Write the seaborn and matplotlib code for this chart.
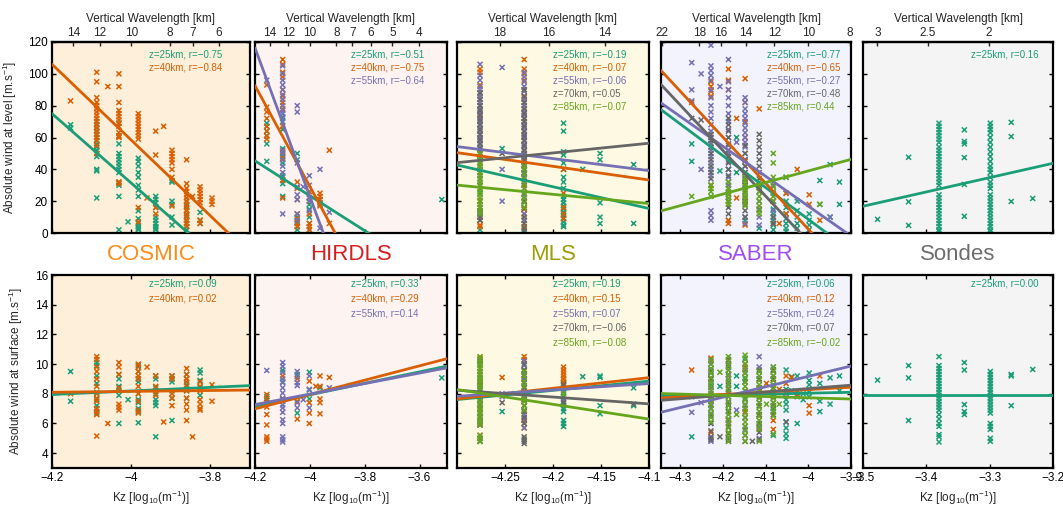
import numpy as np
import pandas as pd
import matplotlib
matplotlib.use("Agg")
import matplotlib.pyplot as plt
import seaborn as sns
from matplotlib.ticker import FuncFormatter, NullLocator

# ---------------------------------------------------------------- data
INSTRUMENTS = ["COSMIC", "HIRDLS", "MLS", "SABER", "Sondes"]
ALT_COLORS = {25: "#1B9E77", 40: "#D95F02", 55: "#7570B3", 70: "#666666", 85: "#66A61E"}

# ---- COSMIC
COSMIC_KZ = [-4.153, -4.087, -4.059, -4.031, -4.008, -3.982, -3.960, -3.938,
             -3.918, -3.897, -3.860, -3.845, -3.826, -3.796]
COSMIC_ALT = [25, 40]
COSMIC_LEVEL_25 = [[68, 66], [70, 68, 66, 64, 62, 60, 58, 56, 54, 52, 50, 48, 40, 39, 22], [],
                   [69, 61, 56, 50, 48, 46, 44, 42, 40, 38, 32, 30, 23, 2], [7],
                   [47, 45, 42, 38, 35, 30, 27, 23, 14, 9, 6, 4, 3, 2], [],
                   [23, 21, 19, 16, 10, 8, 6, 4, 3, 2], [], [33, 32, 20, 18, 10, 5],
                   [20, 17, 14, 11, 8, 6, 4, 2], [], [13, 8, 6], []]
COSMIC_LEVEL_40 = [[83], [101, 95, 85, 82, 80, 78, 76, 74, 72, 70, 68, 66, 64, 62, 60, 58, 55, 50], [92],
                   [100, 92, 82, 77, 75, 73, 71, 69, 67, 63, 61, 60, 32, 31], [],
                   [75, 73, 71, 69, 67, 65, 63, 61, 59, 16, 7], [22], [64, 49, 16, 12], [67],
                   [52, 50, 48, 46, 44, 40, 35, 17],
                   [46, 31, 28, 26, 24, 22, 20, 18, 16, 14, 12, 10, 8, 6, 4], [23],
                   [29, 27, 25, 23, 21, 19, 8, 6], [22, 20, 18]]
COSMIC_SURF_25 = [[9.5, 7.5], [10.1, 9.9, 9.2, 8.7, 8.1, 7.6, 7.2, 7.0, 6.7], [],
                  [9.3, 9.0, 8.5, 8.2, 7.9, 6.0], [7.6],
                  [9.9, 9.5, 9.0, 8.8, 8.0, 7.6, 7.4, 7.0, 6.8, 6.05], [],
                  [9.2, 9.0, 8.4, 8.0, 7.6, 7.4, 7.2, 5.1], [], [9.2, 9.0, 8.8, 8.2, 7.7, 6.2],
                  [9.3, 9.0, 8.6, 8.2, 7.7], [], [9.6, 9.4, 8.9, 8.4, 7.9], []]
COSMIC_SURF_40 = [[8.0], [10.5, 10.3, 9.8, 9.5, 9.0, 8.5, 8.0, 7.7, 7.5, 7.0, 6.8, 6.6, 5.15], [6.0],
                  [10.1, 9.8, 9.3, 8.4, 7.3, 7.1, 6.9], [],
                  [10.0, 9.8, 9.5, 9.2, 9.0, 8.5, 8.0, 7.5, 6.9, 6.7], [9.8], [9.2, 8.5, 8.2, 7.9],
                  [6.1], [9.2, 9.0, 8.0, 7.7, 7.2],
                  [9.7, 9.3, 9.0, 8.8, 8.5, 8.2, 7.7, 7.3, 6.9, 6.2], [5.1],
                  [8.8, 8.5, 8.2, 7.6, 7.3, 7.0, 6.9], [8.6, 7.5]]
COSMIC_R_LEVEL = [-0.75, -0.84]
COSMIC_R_SURF = [0.09, 0.02]
COSMIC_SLOPE_LEVEL = [-218.0, -238.0]
COSMIC_AT_M4_LEVEL = [31.4, 58.4]
COSMIC_SLOPE_SURF = [1.2, 0.3]
COSMIC_AT_M4_SURF = [8.19, 8.16]

# ---- HIRDLS
HIRDLS_KZ = [-4.157, -4.099, -4.046, -4.024, -4.002, -3.978, -3.963, -3.929, -3.519]
HIRDLS_ALT = [25, 40, 55]
HIRDLS_LEVEL_25 = [[69, 67, 64, 61, 56, 45], [73, 70, 65, 53, 48, 44, 36, 31, 23],
                   [50, 46, 10, 7, 4, 2], [], [22, 18, 15, 10, 6, 2], [], [21, 18], [], [21]]
HIRDLS_LEVEL_40 = [[93, 79, 76, 72, 67, 64, 61, 59],
                   [109, 106, 101, 98, 90, 86, 82, 78, 67, 51, 47, 33, 22],
                   [32, 28, 21, 12, 9, 6, 4], [], [26, 20, 12, 6, 4, 2], [],
                   [25, 23, 21, 19, 17], [52, 6], []]
HIRDLS_LEVEL_55 = [[96], [105, 100, 96, 93, 90, 87, 84, 80, 77, 75, 72, 52, 50, 46, 42, 38, 35, 12],
                   [80, 76, 44, 29, 24, 21, 12, 8], [29], [36, 30, 22, 20, 14], [], [40, 3], [13], []]
HIRDLS_SURF_25 = [[7.8, 7.55], [9.6, 8.8, 7.6], [9.3, 6.7], [], [9.45, 8.25, 7.65], [], [8.4], [], [9.07]]
HIRDLS_SURF_40 = [[7.95, 7.65, 7.4, 7.1, 6.6, 5.9, 5.1, 4.95, 4.8], [9.2, 7.65], [9.0, 7.5, 6.3], [],
                  [8.85, 7.4, 6.7, 6.0], [8.5], [9.2, 8.5, 7.65, 7.4, 6.65], [9.1], []]
HIRDLS_SURF_55 = [[9.57], [10.1, 9.85, 9.45, 9.0, 8.75, 8.4, 8.05, 7.7, 7.5, 7.25, 7.05, 6.75, 6.25,
                           6.0, 5.1, 4.9, 4.75],
                  [9.5, 9.15, 8.75, 8.55, 7.4, 7.05], [7.6], [9.2, 8.3, 7.05], [], [], [8.4], []]
HIRDLS_R_LEVEL = [-0.51, -0.75, -0.64]
HIRDLS_R_SURF = [0.33, 0.29, 0.14]
HIRDLS_SLOPE_LEVEL = [-109.7, -317.0, -467.0]
HIRDLS_AT_M4_LEVEL = [23.4, 29.2, 22.9]
HIRDLS_SLOPE_SURF = [3.87, 4.83, 3.54]
HIRDLS_AT_M4_SURF = [7.93, 7.95, 7.98]

# ---- MLS
MLS_KZ = [-4.276, -4.253, -4.230, -4.189, -4.169, -4.151, -4.116]
MLS_ALT = [25, 40, 55, 70, 85]
MLS_LEVEL_25 = [[52, 48, 44, 40, 36, 30, 25, 20, 14, 8, 2], [53], [50, 45, 38, 30, 22, 15, 8, 2],
                [69, 64, 51, 49, 44, 40, 35, 32, 28, 23, 21, 19, 17, 15, 13, 11, 9, 7, 5, 4],
                [40], [50, 46, 19, 10, 6], [43, 6]]
MLS_LEVEL_40 = [[103, 101, 93, 88, 84, 80, 75, 70, 64, 58, 50, 44, 38, 30, 20, 12, 8, 5, 4], [],
                [109, 103, 100, 96, 90, 85, 80, 76, 72, 68, 64, 60, 55, 50, 45, 40, 35, 30, 25, 20,
                 15, 12, 8, 4],
                [40, 25, 16, 12, 9], [], [], []]
MLS_LEVEL_55 = [[106, 99, 96, 92, 90, 88, 86, 84, 82, 80, 78, 76, 74, 72, 70, 68, 66, 64, 62, 60, 58,
                 56, 54, 50, 46, 42, 38, 34, 30, 16, 13, 10],
                [104, 40, 20],
                [101, 98, 95, 92, 89, 86, 84, 82, 80, 78, 76, 74, 72, 70, 68, 66, 64, 62, 60, 58, 56,
                 54, 52, 50, 48, 46, 44, 42, 40, 38, 35, 32, 28, 24, 20, 16, 12, 8],
                [], [], [], []]
MLS_LEVEL_70 = [[88, 84, 80, 77, 74, 71, 68, 65, 62, 59, 56, 53, 50, 47, 16, 14, 12, 10, 8], [50],
                [90, 86, 82, 78, 75, 72, 70, 67, 64, 61, 58, 55, 52, 49, 46, 43, 40, 37, 20, 16, 10,
                 6, 3, 1],
                [], [], [], []]
MLS_LEVEL_85 = [[50, 48, 46, 44, 42, 40, 38, 36, 34, 32, 30, 28, 26, 24, 22, 20, 18, 16, 14, 12], [],
                [42, 40, 37, 34, 31, 28, 25, 22, 19, 16], [], [], [], []]
MLS_SURF_25 = [[10.0, 9.0, 8.2, 7.6, 7.0, 6.4, 5.9, 5.0, 4.8], [6.8], [10.2, 9.2, 8.0, 7.2, 6.2],
               [9.0, 8.7, 8.4, 8.1, 7.8, 7.5, 7.2, 7.0, 6.8, 6.2, 6.0, 5.8], [9.15],
               [9.2, 9.1, 7.2, 6.65], [8.4, 7.2]]
MLS_SURF_40 = [[10.4, 9.5, 8.8, 7.9, 7.0, 6.0, 5.2], [9.1],
               [10.5, 10.3, 9.6, 9.0, 8.2, 7.6, 6.8, 6.2, 5.7],
               [9.8, 9.6, 9.4, 9.2, 9.0, 8.8, 8.6], [], [], []]
MLS_SURF_55 = [[10.3, 9.7, 9.1, 8.5, 7.8, 7.2, 6.5, 5.9], [8.0, 7.8],
               [10.2, 9.9, 9.6, 9.3, 9.0, 8.7, 8.4, 8.1, 7.8, 7.5, 7.2, 6.9, 6.6, 6.3, 6.0, 5.7],
               [8.2, 7.6], [], [], []]
MLS_SURF_70 = [[10.2, 9.3, 8.6, 7.9, 7.3, 6.7, 6.1, 5.0, 4.8], [7.4],
               [10.0, 9.6, 9.2, 8.8, 8.4, 8.0, 7.6, 7.2, 6.8, 6.4, 6.0, 5.1, 4.95, 4.8, 4.65],
               [8.6, 7.4], [], [], [7.3]]
MLS_SURF_85 = [[10.5, 10.3, 10.1, 9.9, 9.7, 9.5, 9.3, 9.1, 8.9, 8.7, 8.5, 8.3, 8.1, 7.9, 7.7, 7.5,
                7.3, 7.1, 6.9, 6.7, 6.5, 6.3, 6.1, 5.9, 5.2, 5.0, 4.8],
               [], [9.5, 9.2, 8.8, 8.5, 8.1, 7.8, 7.5, 7.2, 6.9], [8.0], [], [], []]
MLS_R_LEVEL = [-0.19, -0.07, -0.06, 0.05, -0.07]
MLS_R_SURF = [0.19, 0.15, 0.07, -0.06, -0.08]
MLS_SLOPE_LEVEL = [-136.5, -86.0, -75.5, 61.0, -58.0]
MLS_AT_M4_LEVEL = [1.75, 24.7, 31.65, 62.5, 12.7]
MLS_SLOPE_SURF = [6.2, 7.15, 4.3, -4.6, -9.95]
MLS_AT_M4_SURF = [9.47, 9.8, 9.12, 6.86, 5.3]

# ---- SABER
SABER_KZ = [-4.273, -4.251, -4.228, -4.207, -4.187, -4.168, -4.148, -4.131, -4.115, -4.098,
            -4.082, -4.068, -4.052, -4.039, -4.026, -4.012, -3.998, -3.973, -3.949, -3.927]
SABER_ALT = [25, 40, 55, 70, 85]
SABER_LEVEL_25 = [[56, 45], [], [56, 40, 30], [39], [40, 8], [60, 38], [30, 20, 8], [], [3], [],
                  [20, 15, 12, 8, 5, 2], [], [35, 25, 20, 16, 12, 9, 6, 3, 1], [],
                  [20, 14, 10, 6, 3], [], [12, 8, 5, 2], [33, 18], [43, 10], [32, 18]]
SABER_LEVEL_40 = [[82], [], [95, 92, 89, 86, 60, 30], [], [103, 96, 90, 20, 8, 6], [72, 22],
                  [97, 82, 70, 60, 45, 20, 5], [], [78, 30, 15], [], [20, 6], [6], [25, 12], [],
                  [40], [], [24, 18], [8], [], []]
SABER_LEVEL_55 = [[107, 90, 83], [100, 40],
                  [118, 105, 102, 99, 96, 90, 85, 80, 76, 72, 68, 64, 60, 56, 52, 48, 44, 40, 36,
                   14, 11, 8],
                  [92], [109, 95, 90, 85, 80, 75, 70, 65, 60, 55, 50, 45, 40, 35, 30, 25, 20], [57],
                  [85, 82, 78, 75, 72, 69, 66, 63, 60, 57, 54, 50, 46, 42, 38, 34, 30, 10, 6], [],
                  [20, 15, 10, 5], [], [30, 25, 20, 14, 10], [], [], [], [], [], [], [], [10], []]
SABER_LEVEL_70 = [[72], [71], [62, 58, 54, 50, 46, 42, 38, 34], [],
                  [72, 68, 64, 60, 56, 52, 48, 44, 40, 36, 32, 28, 24, 20, 16, 12], [],
                  [55, 50, 46, 42, 38, 34, 30, 26, 22, 18, 14, 10], [],
                  [62, 58, 54, 50, 46, 42, 38, 34, 30, 26], [], [10, 6], [], [], [], [], [], [],
                  [], [], []]
SABER_LEVEL_85 = [[23], [], [30, 28, 26, 23], [], [32, 28, 26, 24, 22, 20, 18], [],
                  [35, 33, 31, 29, 27, 25, 23, 21, 19, 17], [], [32, 29, 26, 23, 20, 17, 14, 12], [],
                  [50, 44, 35, 32, 29, 26, 23, 20], [], [35], [], [], [], [], [18], [], []]
SABER_SURF_25 = [[7.8, 5.1], [], [9.4, 8.6, 7.0], [8.5], [9.6, 7.2], [9.2, 8.5], [10.4, 9.0, 7.7],
                 [], [9.5, 8.0], [], [9.6, 7.0, 5.2],
                 [], [9.6, 8.3, 8.1, 7.6, 7.3, 6.9, 6.1, 5.7, 5.3, 5.0], [9.15, 8.2],
                 [9.2, 8.1, 7.8, 6.0], [8.0, 7.6], [9.4, 8.9, 8.6, 8.1, 7.8], [8.7, 7.5, 6.8],
                 [9.07, 7.3], [9.2, 8.2]]
SABER_SURF_40 = [[9.6], [], [10.4, 9.0, 7.6, 5.4], [], [10.2, 6.2, 5.3], [], [9.8, 6.8], [],
                 [8.4, 6.5, 5.7], [8.7], [9.0, 6.2, 5.6], [8.3], [9.2, 8.7, 8.0], [9.1], [7.95],
                 [], [7.2, 6.7], [9.2], [], []]
SABER_SURF_55 = [[6.75], [7.4], [10.2, 9.6, 9.0, 8.4, 7.8, 7.2, 6.6, 6.0, 5.0, 4.8], [],
                 [10.0, 9.2, 8.6, 8.0, 7.4, 6.8, 6.2, 5.0, 4.8], [6.9], [9.6, 8.8, 8.0, 7.2, 6.4, 5.6],
                 [], [10.5, 9.8, 9.0, 8.2, 7.4, 6.6, 5.8, 5.0], [], [9.8, 9.2, 8.6, 8.0, 7.4, 6.8],
                 [], [8.0], [], [], [], [], [], [], []]
SABER_SURF_70 = [[], [], [10.0, 9.5, 9.0, 8.5, 8.0, 7.5, 7.0, 6.5, 6.0, 5.5, 5.1, 4.9], [5.1],
                 [10.3, 9.8, 9.3, 8.8, 8.3, 7.8, 7.3, 6.8, 6.3, 5.8, 5.3, 4.9], [],
                 [10.0, 9.4, 8.8, 8.2, 7.6, 7.0, 6.4, 5.8, 5.2, 4.8], [4.8],
                 [9.6, 9.0, 8.4, 7.8, 7.2, 6.6, 6.0, 5.4, 4.9], [], [9.6, 9.0, 8.4, 7.8, 7.2, 6.6],
                 [], [6.1], [], [], [], [], [], [], []]
SABER_SURF_85 = [[], [], [10.3, 10.0, 9.7, 9.4, 9.1, 8.8, 8.5, 8.2, 7.9, 7.6, 7.3, 7.0, 6.7, 6.4, 6.1],
                 [9.45],
                 [10.5, 10.2, 9.9, 9.6, 9.3, 9.0, 8.7, 8.4, 8.1, 7.8, 7.5, 7.2, 6.9, 6.6, 6.3, 6.0,
                  5.7, 5.4, 5.1, 4.8],
                 [6.6],
                 [10.6, 10.3, 10.0, 9.7, 9.4, 9.1, 8.8, 8.5, 8.2, 7.9, 7.6, 7.3, 7.0, 6.7, 6.4, 6.1,
                  5.8, 5.5, 5.2, 4.8],
                 [], [9.5, 9.2, 8.9, 8.6, 8.3, 8.0, 7.7, 7.4, 7.1, 6.8, 6.5, 6.2, 5.9, 5.6, 4.8],
                 [7.3], [9.8, 9.5, 9.2, 8.9, 8.6, 8.3, 8.0, 7.7, 7.4, 7.1, 6.8, 6.5, 5.3], [7.3],
                 [], [], [], [], [], [], [], []]
SABER_R_LEVEL = [-0.77, -0.65, -0.27, -0.48, 0.44]
SABER_R_SURF = [0.06, 0.12, 0.24, 0.07, -0.02]
SABER_SLOPE_LEVEL = [-199.7, -289.0, -187.8, -286.0, 72.8]
SABER_AT_M4_LEVEL = [8.6, 2.4, 16.9, -5.4, 39.0]
SABER_SLOPE_SURF = [0.6, 1.62, 7.0, 2.29, -0.83]
SABER_AT_M4_SURF = [8.04, 8.28, 9.17, 8.35, 7.73]

# ---- Sondes
SONDES_KZ = [-3.477, -3.428, -3.380, -3.340, -3.299, -3.266, -3.232]
SONDES_ALT = [25]
SONDES_LEVEL_25 = [[8.6], [47.6, 19.6, 4.8],
                   [69, 67, 65, 63, 61, 59, 57, 54, 52, 50, 48, 46, 44, 42, 40, 38, 36, 34, 32, 30,
                    24, 22, 20, 18, 16, 14, 12, 10, 8, 6, 4, 2, 1],
                   [64.8, 57.5, 56, 47.4, 30.5, 10.5],
                   [69, 67, 65, 63, 60, 57, 54, 51, 48, 45, 42, 40, 38, 35, 32, 30, 28, 24, 22, 20,
                    18, 16, 14, 12, 10, 8, 6, 4, 2, 1],
                   [69.5, 60.6, 19.8], [21.7]]
SONDES_SURF_25 = [[8.92], [9.9, 9.07, 6.2],
                  [10.5, 9.9, 9.7, 9.5, 9.3, 9.1, 8.9, 8.7, 8.5, 8.3, 8.1, 7.9, 7.7, 7.5, 7.3, 7.1,
                   6.9, 6.6, 6.3, 6.0, 5.8, 5.25, 5.1, 4.75],
                  [10.1, 9.6, 7.27, 6.8, 6.6],
                  [9.5, 9.3, 9.1, 8.9, 8.7, 8.5, 8.3, 8.1, 7.9, 7.7, 7.5, 7.3, 7.1, 6.9, 6.7, 6.0,
                   5.8, 5.6, 5.0, 4.8],
                  [9.3, 9.2, 7.2], [9.64]]
SONDES_R_LEVEL = [0.16]
SONDES_R_SURF = [0.00]
SONDES_SLOPE_LEVEL = [90.0]
SONDES_AT_M4_LEVEL = [-28.2]
SONDES_SLOPE_SURF = [0.0]
SONDES_AT_M4_SURF = [7.9]

# axis ticks / limits
KZ_LIMS = [(-4.2, -3.7), (-4.2, -3.5), (-4.3, -4.1), (-4.345, -3.9), (-3.5, -3.2)]
KZ_TICKS = [[-4.2, -4.0, -3.8], [-4.2, -4.0, -3.8, -3.6], [-4.25, -4.2, -4.15, -4.1],
            [-4.3, -4.2, -4.1, -4.0, -3.9], [-3.5, -3.4, -3.3, -3.2]]
LAMBDA_TICKS = [[14, 12, 10, 8, 7, 6], [14, 12, 10, 8, 7, 6, 5, 4], [18, 16, 14],
                [22, 18, 16, 14, 12, 10, 8], [3, 2.5, 2]]
LEVEL_TICKS = [0, 20, 40, 60, 80, 100, 120]
SURF_TICKS = [4, 6, 8, 10, 12, 14, 16]

PANELS = [
    dict(kz=COSMIC_KZ, alt=COSMIC_ALT,
         level=[COSMIC_LEVEL_25, COSMIC_LEVEL_40], surf=[COSMIC_SURF_25, COSMIC_SURF_40],
         r_level=COSMIC_R_LEVEL, r_surf=COSMIC_R_SURF,
         fit_level=(COSMIC_SLOPE_LEVEL, COSMIC_AT_M4_LEVEL), fit_surf=(COSMIC_SLOPE_SURF, COSMIC_AT_M4_SURF)),
    dict(kz=HIRDLS_KZ, alt=HIRDLS_ALT,
         level=[HIRDLS_LEVEL_25, HIRDLS_LEVEL_40, HIRDLS_LEVEL_55],
         surf=[HIRDLS_SURF_25, HIRDLS_SURF_40, HIRDLS_SURF_55],
         r_level=HIRDLS_R_LEVEL, r_surf=HIRDLS_R_SURF,
         fit_level=(HIRDLS_SLOPE_LEVEL, HIRDLS_AT_M4_LEVEL), fit_surf=(HIRDLS_SLOPE_SURF, HIRDLS_AT_M4_SURF)),
    dict(kz=MLS_KZ, alt=MLS_ALT,
         level=[MLS_LEVEL_25, MLS_LEVEL_40, MLS_LEVEL_55, MLS_LEVEL_70, MLS_LEVEL_85],
         surf=[MLS_SURF_25, MLS_SURF_40, MLS_SURF_55, MLS_SURF_70, MLS_SURF_85],
         r_level=MLS_R_LEVEL, r_surf=MLS_R_SURF,
         fit_level=(MLS_SLOPE_LEVEL, MLS_AT_M4_LEVEL), fit_surf=(MLS_SLOPE_SURF, MLS_AT_M4_SURF)),
    dict(kz=SABER_KZ, alt=SABER_ALT,
         level=[SABER_LEVEL_25, SABER_LEVEL_40, SABER_LEVEL_55, SABER_LEVEL_70, SABER_LEVEL_85],
         surf=[SABER_SURF_25, SABER_SURF_40, SABER_SURF_55, SABER_SURF_70, SABER_SURF_85],
         r_level=SABER_R_LEVEL, r_surf=SABER_R_SURF,
         fit_level=(SABER_SLOPE_LEVEL, SABER_AT_M4_LEVEL), fit_surf=(SABER_SLOPE_SURF, SABER_AT_M4_SURF)),
    dict(kz=SONDES_KZ, alt=SONDES_ALT,
         level=[SONDES_LEVEL_25], surf=[SONDES_SURF_25],
         r_level=SONDES_R_LEVEL, r_surf=SONDES_R_SURF,
         fit_level=(SONDES_SLOPE_LEVEL, SONDES_AT_M4_LEVEL), fit_surf=(SONDES_SLOPE_SURF, SONDES_AT_M4_SURF)),
]

# ---------------------------------------------------------------- styling
BG_COLORS = ["#FDEFD9", "#FDF4F2", "#FEF9E2", "#F3F3FD", "#F4F4F4"]
TITLE_COLORS = ["#FF8A17", "#D71E1E", "#9C9C05", "#A04BF5", "#6E6E6E"]
TEXT_X = [0.49, 0.50, 0.50, 0.556, 0.568]

sns.set_style("white")
plt.rcParams["font.family"] = ["Liberation Sans", "DejaVu Sans"]
plt.rcParams["mathtext.default"] = "regular"
plt.rcParams["axes.unicode_minus"] = True

W, H = 1063, 505
COL_PX = [(52, 250), (255, 447), (457, 649), (661, 851), (863, 1053)]
ROW_PX = [(42, 233), (275, 468)]


def rect(col, row):
    x0, x1 = COL_PX[col]
    y0, y1 = ROW_PX[row]
    return [x0 / W, 1 - y1 / H, (x1 - x0) / W, (y1 - y0) / H]


def to_frame(kz, alts, series):
    rows = []
    for alt, cols in zip(alts, series):
        for x, vals in zip(kz, cols):
            for v in vals:
                rows.append((x, v, alt))
    return pd.DataFrame(rows, columns=["kz", "value", "alt"])


def minus_fmt(v, pos=None):
    return ("%g" % v).replace("-", "\u2212")


def kz2lam(k):
    return 10.0 ** (-np.asarray(k, dtype=float)) / 1000.0


def lam2kz(l):
    l = np.clip(np.asarray(l, dtype=float), 1e-6, None)
    return -np.log10(l * 1000.0)


fig = plt.figure(figsize=(W / 100, H / 100), dpi=100)
fig.patch.set_facecolor("white")

for i, p in enumerate(PANELS):
    for row in range(2):
        ax = fig.add_axes(rect(i, row))
        ax.set_facecolor(BG_COLORS[i])
        series = p["level"] if row == 0 else p["surf"]
        df = to_frame(p["kz"], p["alt"], series)
        sns.scatterplot(data=df, x="kz", y="value", hue="alt", hue_order=p["alt"],
                        palette=ALT_COLORS, marker="x", s=13, linewidth=1.1,
                        legend=False, ax=ax, zorder=2)
        slopes, at4 = p["fit_level"] if row == 0 else p["fit_surf"]
        xs = np.array(KZ_LIMS[i])
        for alt, b, a in zip(p["alt"], slopes, at4):
            ys = a + b * (xs + 4.0)
            sns.lineplot(x=xs, y=ys, color=ALT_COLORS[alt], linewidth=2.0, ax=ax, zorder=3)
        ax.set_xlim(*KZ_LIMS[i])
        if row == 0:
            ax.set_ylim(0, 120)
            ax.set_yticks(LEVEL_TICKS)
        else:
            ax.set_ylim(3, 16)
            ax.set_yticks(SURF_TICKS)
        ax.set_xticks(KZ_TICKS[i])
        ax.xaxis.set_major_formatter(FuncFormatter(minus_fmt))
        ax.yaxis.set_major_formatter(FuncFormatter(minus_fmt))
        ax.set_xlabel("")
        ax.set_ylabel("")
        ax.tick_params(direction="in", length=3, width=1, colors="black",
                       top=(row == 1), right=True, left=True, bottom=True,
                       labelleft=(i == 0), labelbottom=(row == 1), labelsize=8.5, pad=3)
        for sp in ax.spines.values():
            sp.set_linewidth(1.6)
            sp.set_color("black")

        # correlation annotations
        rvals = p["r_level"] if row == 0 else p["r_surf"]
        y0, dy = (0.934, 0.0676) if row == 0 else (0.957, 0.077)
        for k, (alt, r) in enumerate(zip(p["alt"], rvals)):
            ax.text(TEXT_X[i], y0 - k * dy, "z=%dkm, r=%s" % (alt, minus_fmt(float("%.2f" % r)) if r != 0 else "0.00"),
                    transform=ax.transAxes, ha="left", va="center", fontsize=7,
                    color=ALT_COLORS[alt], zorder=5)

        if row == 0:
            sec = ax.secondary_xaxis("top", functions=(kz2lam, lam2kz))
            sec.set_xticks(LAMBDA_TICKS[i])
            sec.xaxis.set_minor_locator(NullLocator())
            sec.xaxis.set_major_formatter(FuncFormatter(lambda v, pos: "%g" % v))
            sec.tick_params(direction="in", length=3, width=1, labelsize=8.5, pad=2)
            sec.set_xlabel("Vertical Wavelength [km]", fontsize=8.5, labelpad=4)
            for sp in sec.spines.values():
                sp.set_linewidth(1.6)
            if i == 0:
                ax.set_ylabel("Absolute wind at level [m.s$^{-1}$]", fontsize=8.5)
                ax.yaxis.set_label_coords(-0.165, 0.5)
        else:
            ax.set_xlabel("Kz [log$_{10}$(m$^{-1}$)]", fontsize=8.5, labelpad=3)
            ax.text(0.5, 1.105, INSTRUMENTS[i], transform=ax.transAxes, ha="center",
                    va="center", fontsize=16, color=TITLE_COLORS[i])
            if i == 0:
                ax.set_ylabel("Absolute wind at surface [m.s$^{-1}$]", fontsize=8.5)
                ax.yaxis.set_label_coords(-0.135, 0.5)

fig.savefig("out.png", dpi=100)
